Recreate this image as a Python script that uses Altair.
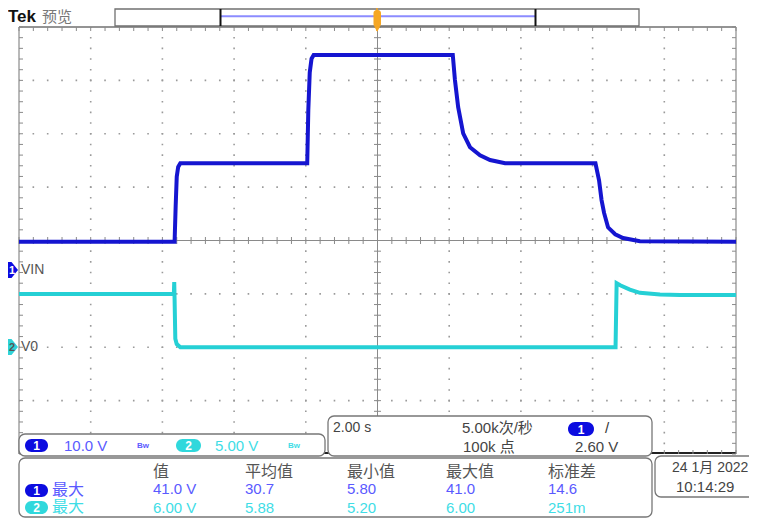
import altair as alt
import numpy as np
import pandas as pd

# ---------------- data ----------------
# Channel 1 (VIN), 10 V/div : time in s, voltage in V
ch1_time = [-10.0, -5.66, -5.63, -5.60, -5.56, -5.50, -1.96, -1.93, -1.89, -1.84, -1.78,
            2.10, 2.16, 2.25, 2.39, 2.58, 2.86, 3.14, 3.56, 6.08, 6.18, 6.25, 6.32, 6.43,
            6.63, 6.85, 7.32, 10.0]
ch1_volts = [5.3, 5.3, 12.0, 17.5, 19.3, 20.0, 20.0, 30.0, 37.0, 39.6, 40.3,
             40.3, 35.6, 30.5, 25.6, 23.0, 21.5, 20.6, 20.0, 20.0, 16.8, 13.1, 10.7, 8.0,
             6.7, 6.0, 5.4, 5.3]
# Channel 2 (V0), 5 V/div
ch2_time = [-10.0, -5.68, -5.67, -5.66, -5.64, -5.60, -5.50, 6.64, 6.67, 6.77, 7.04,
            7.32, 7.88, 8.44, 10.0]
ch2_volts = [5.0, 5.0, 6.1, 4.5, 0.8, 0.3, 0.0, 0.0, 6.0, 5.8, 5.4,
             5.1, 4.95, 4.9, 4.9]

ch1_vdiv = 10.0
ch2_vdiv = 5.0
ch1_ground_div = -0.553
ch2_ground_div = -2.0

ch_labels = ["VIN", "V0"]
ch_scales = ["10.0 V", "5.00 V"]
meas_headers = ["值", "平均值", "最小值", "最大值", "标准差"]
ch1_meas = ["41.0 V", "30.7", "5.80", "41.0", "14.6"]
ch2_meas = ["6.00 V", "5.88", "5.20", "6.00", "251m"]
timebase = "2.00 s"
sample_rate = "5.00k次/秒"
record_len = "100k 点"
trig_level = "2.60 V"
date_str = "24 1月 2022"
time_str = "10:14:29"

# ---------------- layout ----------------
W, H = 717, 427
OX, OY = 19, 27          # page position of the graticule's top-left corner
SANS = "Liberation Sans, Arial, Noto Sans CJK SC, sans-serif"
C1 = "#1515d0"
C2 = "#25d0d5"
C1T = "#5a5aff"
C2T = "#3fdde6"
GRAY = "#444444"

xs = alt.Scale(domain=[-10, 10], nice=False, zero=False)
ys = alt.Scale(domain=[-4, 4], nice=False, zero=False)
one = pd.DataFrame({"a": [0]})


def X(px):
    return alt.value(px - OX)


def Y(py):
    return alt.value(py - OY)


def text(s, x, y, color=GRAY, size=15, weight="normal", align="left", font=SANS):
    return alt.Chart(one).mark_text(text=s, align=align, baseline="middle", color=color,
                                    fontSize=size, fontWeight=weight, font=font).encode(
        x=X(x), y=Y(y))


def box(x1, y1, x2, y2, fill="white", stroke="#777777", sw=1.3, r=6):
    kw = dict(fill=fill, cornerRadius=r)
    if stroke:
        kw.update(stroke=stroke, strokeWidth=sw)
    return alt.Chart(one).mark_rect(**kw).encode(x=X(x1), x2=X(x2), y=Y(y1), y2=Y(y2))


def seg(x1, y1, x2, y2, color="#808080", sw=1.0):
    return alt.Chart(one).mark_rule(color=color, strokeWidth=sw).encode(
        x=X(x1), x2=X(x2), y=Y(y1), y2=Y(y2))


def pill(label, x1, y1, x2, y2, fill, tcolor="white"):
    return [box(x1, y1, x2, y2, fill=fill, stroke=None, r=(y2 - y1) / 2),
            text(label, (x1 + x2) / 2, (y1 + y2) / 2 + 0.5, color=tcolor, size=12,
                 weight="bold", align="center")]


layers = []

# ---- dotted graticule ----
major_t = pd.DataFrame({"t": [-8, -6, -4, -2, 2, 4, 6, 8]})
major_d = pd.DataFrame({"d": [-3, -2, -1, 1, 2, 3]})
minor_t = pd.DataFrame({"t": np.round(np.arange(-10, 10.001, 0.4), 3)})
minor_d = pd.DataFrame({"d": np.round(np.arange(-4, 4.001, 0.2), 3)})

layers.append(alt.Chart(major_t).mark_rule(color="#9a9a9a", strokeWidth=1.6,
                                           strokeDash=[1.6, H / 40 - 1.6], strokeDashOffset=0.8)
              .encode(x=alt.X("t:Q", scale=xs, axis=None), y=alt.value(0), y2=alt.value(H)))
layers.append(alt.Chart(major_d).mark_rule(color="#9a9a9a", strokeWidth=1.6,
                                           strokeDash=[1.6, W / 50 - 1.6], strokeDashOffset=0.8)
              .encode(y=alt.Y("d:Q", scale=ys, axis=None), x=alt.value(0), x2=alt.value(W)))

# center cross-hair
layers.append(seg(OX, OY + H / 2, OX + W, OY + H / 2, "#8a8a8a", 1))
layers.append(seg(OX + W / 2, OY, OX + W / 2, OY + H, "#8a8a8a", 1))
layers.append(alt.Chart(minor_t).mark_rule(color="#8a8a8a", strokeWidth=1)
              .encode(x=alt.X("t:Q", scale=xs, axis=None), y=alt.value(H / 2 - 3.5),
                      y2=alt.value(H / 2 + 3.5)))
layers.append(alt.Chart(minor_d).mark_rule(color="#8a8a8a", strokeWidth=1)
              .encode(y=alt.Y("d:Q", scale=ys, axis=None), x=alt.value(W / 2 - 3.5),
                      x2=alt.value(W / 2 + 3.5)))

# border lines and their ticks
layers.append(seg(OX, OY, OX + W, OY, "#707070", 1.5))
layers.append(seg(OX, OY, OX, OY + H, "#8a8a8a", 1.2))
layers.append(seg(OX + W, OY, OX + W, OY + H, "#8a8a8a", 1.2))
layers.append(seg(OX, OY + H - 1, OX + W, OY + H - 1, "#222222", 2))
for y1, y2 in [(0, 4), (H - 4, H)]:
    layers.append(alt.Chart(minor_t).mark_rule(color="#8a8a8a", strokeWidth=1)
                  .encode(x=alt.X("t:Q", scale=xs, axis=None), y=alt.value(y1), y2=alt.value(y2)))
for x1, x2 in [(0, 4), (W - 4, W)]:
    layers.append(alt.Chart(minor_d).mark_rule(color="#8a8a8a", strokeWidth=1)
                  .encode(y=alt.Y("d:Q", scale=ys, axis=None), x=alt.value(x1), x2=alt.value(x2)))

# ---- traces ----
ch1 = pd.DataFrame({"t": ch1_time, "v": ch1_volts})
ch2 = pd.DataFrame({"t": ch2_time, "v": ch2_volts})
layers.append(alt.Chart(ch2).transform_calculate(div=f"datum.v / {ch2_vdiv} + ({ch2_ground_div})")
              .mark_line(color=C2, strokeWidth=4, strokeJoin="miter")
              .encode(x=alt.X("t:Q", scale=xs, axis=None), y=alt.Y("div:Q", scale=ys, axis=None)))
layers.append(alt.Chart(ch1).transform_calculate(div=f"datum.v / {ch1_vdiv} + ({ch1_ground_div})")
              .mark_line(color=C1, strokeWidth=4, strokeJoin="miter")
              .encode(x=alt.X("t:Q", scale=xs, axis=None), y=alt.Y("div:Q", scale=ys, axis=None)))

# ---- header: Tek logo, record view, trigger marker ----
layers.append(text("Tek", 8, 17, color="#111111", size=17, weight="bold"))
layers.append(text("预览", 42, 17, color="#777777", size=15))
layers.append(box(115, 9, 639, 26, fill="white", stroke="#707070", sw=1.3, r=0))
layers.append(seg(221, 16.3, 536, 16.3, "#8c8cff", 2))
layers.append(seg(220.5, 9, 220.5, 26, "#111111", 2))
layers.append(seg(535.5, 9, 535.5, 26, "#111111", 2))
layers.append(seg(377, 2, 377, 31, "#f5a020", 1.5))
layers.append(box(373.5, 10, 381, 27, fill="#f5a623", stroke=None, r=3))
layers.append(alt.Chart(one).mark_point(shape="triangle-down", filled=True, color="#f5a623",
                                        size=40, opacity=1).encode(x=X(377.2), y=Y(29)))

# ---- channel ground markers ----
marker_path = "M-1,-0.8 L0.35,-0.8 L1,0 L0.35,0.8 L-1,0.8 Z"
for lab, name, yy, col, tcol in [("1", ch_labels[0], 270, "#0c0ce0", "white"),
                                 ("2", ch_labels[1], 347, "#2fd3d8", "#555555")]:
    layers.append(alt.Chart(one).mark_point(shape=marker_path, filled=True, color=col, size=400,
                                            opacity=1).encode(x=X(8), y=Y(yy)))
    layers.append(text(lab, 12, yy + 0.5, color=tcol, size=11, weight="bold", align="center"))
    layers.append(text(name, 21, yy, color="#555555", size=14))

# ---- channel scale box ----
layers.append(box(19, 434, 325, 456))
layers += pill("1", 25, 439, 48, 452, "#0c0ce0")
layers.append(text(ch_scales[0], 64, 446, color=C1T, size=15))
layers.append(text("Bw", 137, 446, color=C1T, size=8, weight="bold"))
layers += pill("2", 176, 439, 201, 452, "#30d8dc")
layers.append(text(ch_scales[1], 215, 446, color=C2T, size=15))
layers.append(text("Bw", 288, 446, color=C2T, size=8, weight="bold"))

# ---- timebase / trigger box ----
layers.append(box(328, 416, 652, 456))
layers.append(text(timebase, 333, 428, size=14))
layers.append(text(sample_rate, 462, 428, size=15))
layers.append(text(record_len, 463, 447, size=15))
layers += pill("1", 568, 422, 594, 436, "#0c0ce0")
layers.append(text("/", 605, 428, color="#333333", size=15))
layers.append(text(trig_level, 575, 447, size=15))

# ---- measurement box ----
layers.append(box(19, 458, 652, 517))
col_x = [153, 245, 347, 446, 548]
for hx, h in zip(col_x, meas_headers):
    layers.append(text(h, hx, 472, color="#555555", size=16))
layers += pill("1", 25, 484, 48, 497, "#0c0ce0")
layers.append(text("最大", 52, 490, color=C1T, size=16))
layers += pill("2", 25, 501, 48, 514, "#30d8dc")
layers.append(text("最大", 52, 507, color=C2T, size=16))
for vx, v in zip(col_x, ch1_meas):
    layers.append(text(v, vx, 489, color=C1T, size=15))
for vx, v in zip(col_x, ch2_meas):
    layers.append(text(v, vx, 508, color=C2T, size=15))

# ---- date box ----
layers.append(box(655, 456, 770, 497))
layers.append(text(date_str, 672, 468, size=14))
layers.append(text(time_str, 676, 487, size=15))

chart = alt.layer(*layers).properties(
    width=W, height=H,
    autosize=alt.AutoSizeParams(type="none"),
    padding={"left": OX - 8, "top": OY - 8, "right": 13, "bottom": 66},
    background="white",
).configure_view(stroke=None)

chart.save("out.html", embed_options={"renderer": "svg", "actions": False})
